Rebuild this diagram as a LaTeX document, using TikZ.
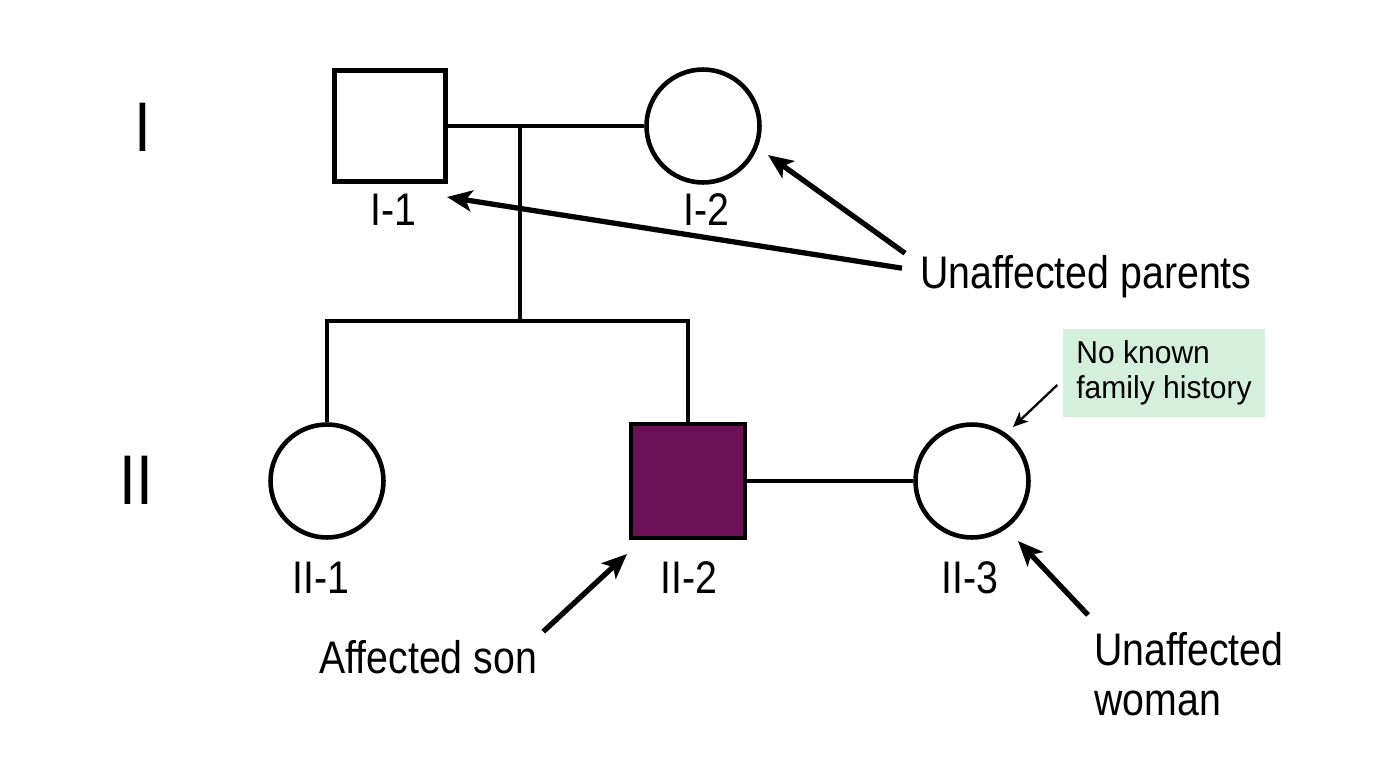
\documentclass[tikz,border=0pt]{standalone}
\usepackage{fontspec}
\setmainfont[FakeStretch=0.86]{Liberation Sans}
\newfontfamily\histfont[FakeStretch=0.95]{Liberation Sans}
\usetikzlibrary{arrows.meta}
\definecolor{affected}{HTML}{6B1057}
\definecolor{histgreen}{HTML}{D5EFDD}

\begin{document}
\begin{tikzpicture}[x=0.02cm, y=-0.02cm, line width=2.6pt,
	male/.style={draw, rectangle, minimum size=2.22cm, inner sep=0pt},
	female/.style={draw, circle, minimum size=2.26cm, inner sep=0pt},
	idtag/.style={anchor=base, inner sep=0pt, font=\fontsize{26}{30}\selectfont},
	gen/.style={anchor=base, inner sep=0pt, font=\fontsize{40}{44}\selectfont},
	note/.style={inner sep=0pt, align=left, font=\fontsize{26}{28.4}\selectfont},
	pointer/.style={-{Stealth[length=5mm, width=4.2mm, inset=1.2mm]}, line width=3pt},
	thinpointer/.style={-{Stealth[length=3mm, width=2.6mm, inset=0.8mm]}, line width=1.3pt}]
	\useasboundingbox (0,0) rectangle (1376,768);
	\node[gen] (gen-1) at (143,151) {I};
	\node[gen] (gen-2) at (136,504) {II};
	\node[male] (i-1) at (390,126) {};
	\node[female] (i-2) at (703,126) {};
	\node[female] (ii-1) at (327,481) {};
	\node[male, fill=affected, minimum size=2.28cm] (ii-2) at (688,481) {};
	\node[female] (ii-3) at (972,481) {};
	\coordinate (union) at (520,126);
	\coordinate (sibs) at (520,321);
	\draw (i-1) -- (i-2);
	\draw (union) -- (sibs);
	\draw (ii-1) |- (sibs) -| (ii-2);
	\draw (ii-2) -- (ii-3);
	\node[idtag] (t-i-1) at (393,225) {I-1};
	\node[idtag] (t-i-2) at (706,225) {I-2};
	\node[idtag] (t-ii-1) at (321,593) {II-1};
	\node[idtag] (t-ii-2) at (689,593) {II-2};
	\node[idtag] (t-ii-3) at (970,593) {II-3};
	\node[note, anchor=base west] (parents) at (918,288) {Unaffected parents};
	\node[note, anchor=base west] (son) at (317,673) {Affected son};
	\node[note, anchor=north west] (woman) at (1092,630) {Unaffected\\woman};
	\node[fill=histgreen, minimum width=4.06cm, minimum height=1.76cm, align=left,
		font=\histfont\fontsize{18}{19.8}\selectfont] (history) at (1164,373) {No known\\family history};
	\coordinate (tip-i-1) at (447,197);
	\coordinate (tip-i-2) at (768,155);
	\coordinate (tip-ii-2) at (627,554);
	\coordinate (tip-ii-3) at (1018,541);
	\coordinate (tip-hist) at (1013,427);
	\draw[pointer] ([shift={(-16,-8)}]parents.west) -- (tip-i-1);
	\draw[pointer] ([shift={(-13,-23)}]parents.west) -- (tip-i-2);
	\draw[pointer] ([shift={(4,-6)}]son.north east) -- (tip-ii-2);
	\draw[pointer] ([shift={(-4,-15)}]woman.north west) -- (tip-ii-3);
	\draw[thinpointer] ([shift={(-3,12)}]history.west) -- (tip-hist);
\end{tikzpicture}
\end{document}
